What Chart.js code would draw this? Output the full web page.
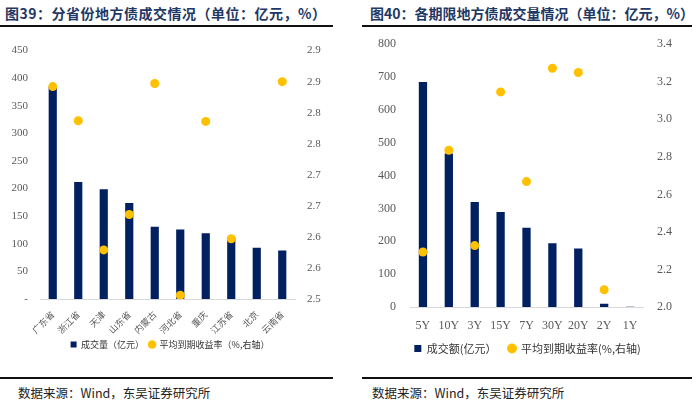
<!DOCTYPE html>
<html>
<head>
<meta charset="utf-8">
<script src="https://cdn.jsdelivr.net/npm/chart.js@4.4.1/dist/chart.umd.min.js"></script>
<style>
  body { margin: 0; width: 700px; height: 418px; background: #fff; position: relative; overflow: hidden; font-family: "Noto Sans CJK SC", sans-serif; }
  .title { position: absolute; top: 3px; font-size: 14px; font-weight: bold; color: #1f3864; white-space: nowrap; }
  .rule { position: absolute; height: 0; border-top: 2px solid #111; }
  .source { position: absolute; top: 383px; font-size: 12.5px; color: #222; white-space: nowrap; }
  .box { position: absolute; }
</style>
</head>
<body>
<div class="title" style="left:5px; letter-spacing:0.5px">图39：分省份地方债成交情况（单位：亿元，%）</div>
<div class="rule" style="left:0; width:333px; top:25px"></div>
<div class="box" style="left:0; top:32px; width:340px; height:327px"><canvas id="c1"></canvas></div>
<div class="rule" style="left:0; width:333px; top:377px"></div>
<div class="source" style="left:18px">数据来源：Wind，东吴证券研究所</div>

<div class="title" style="left:370px">图40：各期限地方债成交量情况（单位：亿元，%）</div>
<div class="rule" style="left:362px; width:330px; top:25px"></div>
<div class="box" style="left:355px; top:23px; width:345px; height:341px"><canvas id="c2"></canvas></div>
<div class="rule" style="left:362px; width:330px; top:377px"></div>
<div class="source" style="left:372px">数据来源：Wind，东吴证券研究所</div>

<script>
// 图39
const provinces = ["广东省", "浙江省", "天津", "山东省", "内蒙古", "河北省", "重庆", "江苏省", "北京", "云南省"];
const provVolume = [384, 212, 199, 174, 131, 126, 119, 110, 93, 88];
const provYield = [2.842, 2.787, 2.579, 2.636, 2.847, 2.506, 2.786, 2.597, null, 2.85];
const provYieldTicks = ["2.5", "2.6", "2.6", "2.7", "2.7", "2.8", "2.8", "2.9", "2.9"];

// 图40
const terms = ["5Y", "10Y", "3Y", "15Y", "7Y", "30Y", "20Y", "2Y", "1Y"];
const termVolume = [685, 467, 320, 289, 241, 194, 178, 10, 1];
const termYield = [2.293, 2.835, 2.327, 3.146, 2.668, 3.272, 3.249, 2.092, null];

const navy = "#002060";
const gold = "#ffc000";
const serif = "'Liberation Serif', 'Noto Sans CJK SC', serif";
const cjk = "'Noto Sans CJK SC', sans-serif";

Chart.defaults.animation = false;
Chart.defaults.color = "#595959";

function fixWidth(w) {
  return (scale) => { scale.width = w; };
}
function fixHeight(h) {
  return (scale) => { scale.height = h; };
}

new Chart(document.getElementById("c1"), {
  type: "bar",
  data: {
    labels: provinces,
    datasets: [
      {
        type: "line",
        label: "平均到期收益率（%,右轴）",
        data: provYield,
        showLine: false,
        pointRadius: 4.5,
        pointHoverRadius: 4.5,
        pointBackgroundColor: gold,
        pointBorderWidth: 0,
        borderColor: gold,
        backgroundColor: gold,
        pointStyle: "circle",
        yAxisID: "yield",
        order: 0,
      },
      {
        label: "成交量（亿元）",
        data: provVolume,
        backgroundColor: navy,
        barPercentage: 0.32,
        categoryPercentage: 1,
        pointStyle: "rect",
        yAxisID: "vol",
        order: 1,
      },
    ],
  },
  options: {
    responsive: true,
    maintainAspectRatio: false,
    layout: { padding: { top: 10, left: 0, right: 0, bottom: 0 } },
    plugins: {
      legend: {
        position: "bottom",
        reverse: true,
        labels: {
          usePointStyle: true,
          boxWidth: 6,
          boxHeight: 6,
          padding: 5,
          font: { family: cjk, size: 9 },
          color: "#333",
        },
      },
      tooltip: { enabled: false },
    },
    scales: {
      x: {
        grid: { display: false },
        border: { color: "#d9d9d9" },
        ticks: {
          maxRotation: 45,
          minRotation: 45,
          font: { family: cjk, size: 9 },
          padding: 2,
        },
        afterFit: fixHeight(36),
      },
      vol: {
        position: "left",
        min: 0,
        max: 450,
        grid: { display: false, drawTicks: false },
        border: { display: false },
        ticks: {
          stepSize: 50,
          padding: 12,
          font: { family: serif, size: 11 },
          callback: (v) => (v === 0 ? "-" : v),
        },
        afterFit: fixWidth(40),
      },
      yield: {
        position: "right",
        min: 2.5,
        max: 2.9,
        grid: { display: false, drawTicks: false },
        border: { display: false },
        ticks: {
          stepSize: 0.05,
          padding: 12,
          font: { family: serif, size: 11 },
          callback: (v, i) => provYieldTicks[i],
        },
        afterFit: fixWidth(45),
      },
    },
  },
});

new Chart(document.getElementById("c2"), {
  type: "bar",
  data: {
    labels: terms,
    datasets: [
      {
        type: "line",
        label: "平均到期收益率(%,右轴)",
        data: termYield,
        showLine: false,
        pointRadius: 4.5,
        pointHoverRadius: 4.5,
        pointBackgroundColor: gold,
        pointBorderWidth: 0,
        borderColor: gold,
        backgroundColor: gold,
        pointStyle: "circle",
        yAxisID: "yield",
        order: 0,
      },
      {
        label: "成交额(亿元）",
        data: termVolume,
        backgroundColor: navy,
        barPercentage: 0.32,
        categoryPercentage: 1,
        pointStyle: "rect",
        yAxisID: "vol",
        order: 1,
      },
    ],
  },
  options: {
    responsive: true,
    maintainAspectRatio: false,
    layout: { padding: { top: 10, left: 0, right: 0, bottom: 0 } },
    plugins: {
      legend: {
        position: "bottom",
        reverse: true,
        labels: {
          usePointStyle: true,
          boxWidth: 7,
          boxHeight: 7,
          padding: 12,
          font: { family: cjk, size: 11 },
          color: "#333",
        },
      },
      tooltip: { enabled: false },
    },
    scales: {
      x: {
        grid: { display: false },
        border: { color: "#d9d9d9" },
        ticks: {
          maxRotation: 0,
          autoSkip: false,
          font: { family: serif, size: 12 },
          padding: 4,
        },
        afterFit: fixHeight(24),
      },
      vol: {
        position: "left",
        min: 0,
        max: 800,
        grid: { display: false, drawTicks: false },
        border: { display: false },
        ticks: {
          stepSize: 100,
          padding: 14,
          font: { family: serif, size: 12 },
        },
        afterFit: fixWidth(55),
      },
      yield: {
        position: "right",
        min: 2.0,
        max: 3.4,
        grid: { display: false, drawTicks: false },
        border: { display: false },
        ticks: {
          stepSize: 0.2,
          padding: 14,
          font: { family: serif, size: 12 },
          callback: (v) => v.toFixed(1),
        },
        afterFit: fixWidth(57),
      },
    },
  },
});
</script>
</body>
</html>
